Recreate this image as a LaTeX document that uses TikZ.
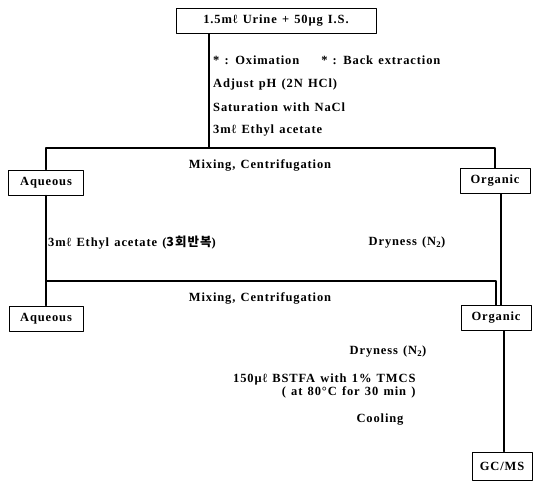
\documentclass[tikz,border=0pt]{standalone}
\usepackage{fontspec}
\setmainfont{Liberation Serif}[LetterSpace=7, WordSpace=1.3]
\newfontfamily\krfont{Noto Sans CJK KR}[LetterSpace=8]
\usetikzlibrary{positioning}

\begin{document}
\begin{tikzpicture}[
    x=1pt, y=-1pt,
    font=\fontsize{12.5}{12.5}\selectfont\bfseries,
    line join=round,
    line cap=round,
    box/.style={
        draw,
        line width=0.9pt,
        rectangle,
        minimum height=25pt,
        inner xsep=4pt
    },
    step text/.style={inner sep=0pt, anchor=west},
    link/.style={line width=1.3pt}
]
\useasboundingbox (0,0) rectangle (534,482);

% =========================
% Nodes
% =========================
\node[box, minimum width=200pt] (urine) at (276,21) {1.5mℓ Urine + 50μg I.S.};

\node[step text] (oxim) at (213,60) {* : Oximation\hspace{22pt}* : Back extraction};
\node[step text] (ph) at (213,84) {Adjust pH (2N HCl)};
\node[step text] (nacl) at (213,107) {Saturation with NaCl};
\node[step text] (ethyl1) at (213,131) {3mℓ Ethyl acetate};

\node (mix1) at (260,165) {Mixing, Centrifugation};

\node[box, minimum width=75pt] (aq1) at (46,182.5) {Aqueous};
\node[box, minimum width=70pt] (org1) at (495,181) {Organic};

\node[step text] (ethyl2) at (48,243) {3mℓ Ethyl acetate ({\krfont\bfseries 3회반복})};
\node (dry1) at (407,243) {Dryness (N\textsubscript{2})};

\node (mix2) at (260,298) {Mixing, Centrifugation};

\node[box, minimum width=74pt] (aq2) at (46,318.5) {Aqueous};
\node[box, minimum width=70pt] (org2) at (496,318) {Organic};

\node (dry2) at (388,352) {Dryness (N\textsubscript{2})};
\node[align=right, anchor=east, font=\fontsize{12.5}{10.5}\selectfont\bfseries] (bstfa) at (419,386)
    {150μℓ BSTFA with 1\% TMCS\\( at 80°C for 30 min )};
\node (cool) at (380,420) {Cooling};

\node[box, minimum width=60pt, minimum height=28pt] (gcms) at (502,466) {GC/MS};

% =========================
% Connectors
% =========================
\coordinate (split1) at (209,148);
\coordinate (split2) at (46,281);

\draw[link] (urine.south -| split1) -- (split1);
\draw[link] (aq1.north) |- (split1) -| (org1.north);
\draw[link] (aq1.south) -- (aq2.north);
\draw[link] (split2) -| (org2.north);
\draw[link] ([xshift=6pt]org1.south) -- ([xshift=6pt]org1.south |- org2.north);
\draw[link] ([xshift=8pt]org2.south) -- ([xshift=8pt]org2.south |- gcms.north);

\end{tikzpicture}
\end{document}
